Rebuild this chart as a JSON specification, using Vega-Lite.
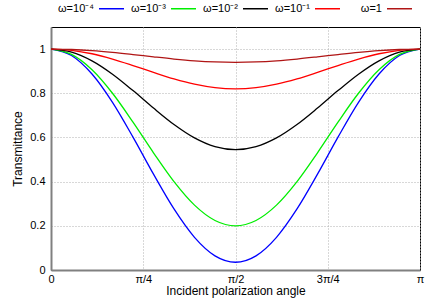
{
  "$schema": "https://vega.github.io/schema/vega-lite/v6.json",
  "width": 369,
  "height": 243,
  "autosize": "none",
  "padding": {"left": 51, "top": 27, "right": 16, "bottom": 35},
  "background": "white",
  "config": {
    "font": "Liberation Sans",
    "view": {"stroke": "black", "strokeWidth": 1},
    "axis": {
      "domainColor": "#808080",
      "domainWidth": 2,
      "grid": true,
      "gridColor": "#b0b0b0",
      "gridDash": [1, 2],
      "gridWidth": 1,
      "ticks": false,
      "labelFont": "Liberation Sans",
      "labelFontSize": 11,
      "labelColor": "black",
      "titleFont": "Liberation Sans",
      "titleFontSize": 12,
      "titleFontWeight": "normal",
      "titleColor": "black"
    }
  },
  "data": {
    "values": [
      {"a": 0, "w4": 1, "w3": 1, "w2": 1, "w1": 1, "w0": 1},
      {"a": 10, "w4": 0.9709, "w3": 0.9758, "w2": 0.9863, "w1": 0.9946, "w0": 0.9982},
      {"a": 20, "w4": 0.8871, "w3": 0.9064, "w2": 0.9468, "w1": 0.9789, "w0": 0.993},
      {"a": 30, "w4": 0.7588, "w3": 0.8, "w2": 0.8863, "w1": 0.955, "w0": 0.985},
      {"a": 40, "w4": 0.6013, "w3": 0.6694, "w2": 0.812, "w1": 0.9256, "w0": 0.9752},
      {"a": 50, "w4": 0.4337, "w3": 0.5306, "w2": 0.733, "w1": 0.8944, "w0": 0.9648},
      {"a": 60, "w4": 0.2763, "w3": 0.4, "w2": 0.6588, "w1": 0.865, "w0": 0.955},
      {"a": 70, "w4": 0.1479, "w3": 0.2936, "w2": 0.5982, "w1": 0.8411, "w0": 0.947},
      {"a": 80, "w4": 0.0641, "w3": 0.2242, "w2": 0.5587, "w1": 0.8254, "w0": 0.9418},
      {"a": 90, "w4": 0.035, "w3": 0.2, "w2": 0.545, "w1": 0.82, "w0": 0.94},
      {"a": 100, "w4": 0.0641, "w3": 0.2242, "w2": 0.5587, "w1": 0.8254, "w0": 0.9418},
      {"a": 110, "w4": 0.1479, "w3": 0.2936, "w2": 0.5982, "w1": 0.8411, "w0": 0.947},
      {"a": 120, "w4": 0.2763, "w3": 0.4, "w2": 0.6588, "w1": 0.865, "w0": 0.955},
      {"a": 130, "w4": 0.4337, "w3": 0.5306, "w2": 0.733, "w1": 0.8944, "w0": 0.9648},
      {"a": 140, "w4": 0.6013, "w3": 0.6694, "w2": 0.812, "w1": 0.9256, "w0": 0.9752},
      {"a": 150, "w4": 0.7588, "w3": 0.8, "w2": 0.8863, "w1": 0.955, "w0": 0.985},
      {"a": 160, "w4": 0.8871, "w3": 0.9064, "w2": 0.9468, "w1": 0.9789, "w0": 0.993},
      {"a": 170, "w4": 0.9709, "w3": 0.9758, "w2": 0.9863, "w1": 0.9946, "w0": 0.9982},
      {"a": 180, "w4": 1, "w3": 1, "w2": 1, "w1": 1, "w0": 1}
    ]
  },
  "transform": [
    {"fold": ["w4", "w3", "w2", "w1", "w0"], "as": ["series", "T"]}
  ],
  "mark": {"type": "line", "interpolate": "monotone", "strokeWidth": 1.3, "clip": true},
  "encoding": {
    "x": {
      "field": "a",
      "type": "quantitative",
      "scale": {"domain": [0, 180], "nice": false, "zero": false},
      "axis": {
        "title": "Incident polarization angle",
        "values": [0, 45, 90, 135, 180],
        "labelExpr": "datum.value == 0 ? '0' : datum.value == 45 ? 'π/4' : datum.value == 90 ? 'π/2' : datum.value == 135 ? '3π/4' : 'π'",
        "labelPadding": 3,
        "titlePadding": 1,
        "labelFlush": false
      }
    },
    "y": {
      "field": "T",
      "type": "quantitative",
      "scale": {"domain": [0, 1.1], "nice": false},
      "axis": {
        "title": "Transmittance",
        "values": [0, 0.2, 0.4, 0.6, 0.8, 1],
        "format": "~g",
        "labelPadding": 6,
        "titlePadding": 5,
        "labelFlush": false
      }
    },
    "color": {
      "field": "series",
      "type": "nominal",
      "scale": {
        "domain": ["w4", "w3", "w2", "w1", "w0"],
        "range": ["#0000ff", "#00ee00", "#000000", "#ff0000", "#b01515"]
      },
      "legend": {
        "title": null,
        "orient": "none",
        "legendX": 47,
        "legendY": -32,
        "direction": "horizontal",
        "columns": 5,
        "gridAlign": "all",
        "columnPadding": 4,
        "symbolType": "stroke",
        "symbolSize": 625,
        "symbolStrokeWidth": 1.5,
        "labelAlign": "right",
        "labelOffset": -31,
        "labelFont": "Liberation Sans",
        "labelFontSize": 11,
        "labelColor": "black",
        "labelExpr": "datum.value == 'w4' ? 'ω=10⁻⁴' : datum.value == 'w3' ? 'ω=10⁻³' : datum.value == 'w2' ? 'ω=10⁻²' : datum.value == 'w1' ? 'ω=10⁻¹' : '\u00a0\u00a0\u00a0\u00a0\u00a0ω=1'"
      }
    }
  }
}
